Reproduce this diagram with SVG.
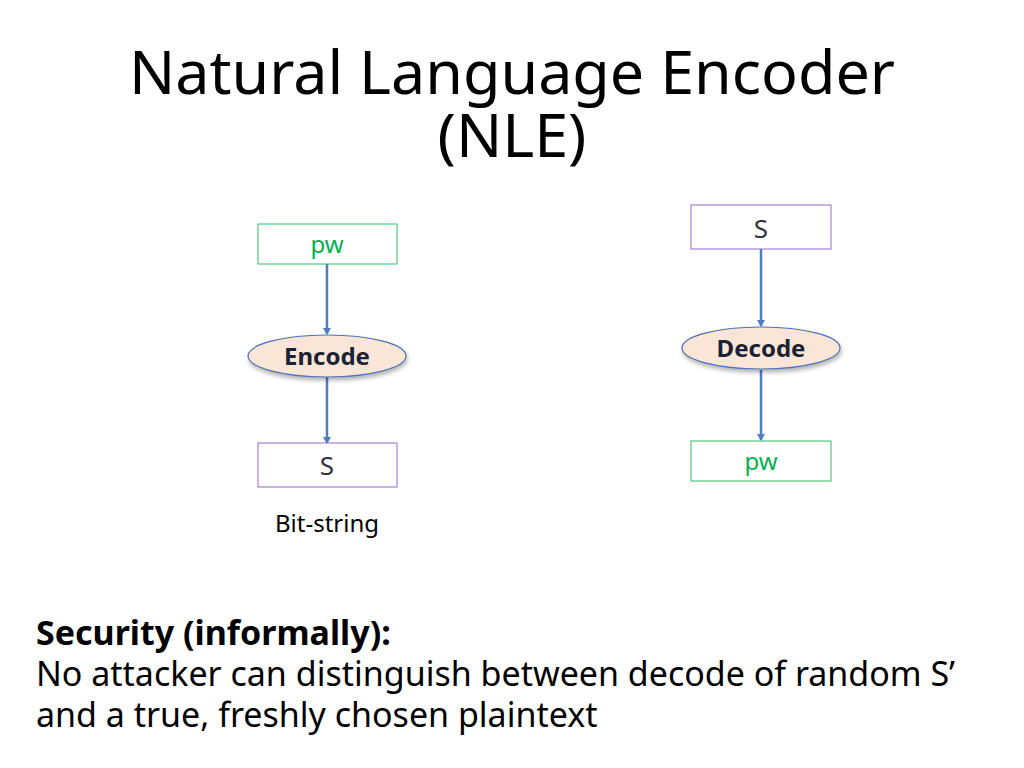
<svg xmlns="http://www.w3.org/2000/svg" width="1024" height="768" viewBox="0 0 1024 768">
<style>
text{font-family:"Noto Sans","Open Sans",sans-serif}
.t{font-size:61px;fill:#000;text-anchor:middle}
.g{fill:#fff;stroke:#33bb66;stroke-width:1}
.p{fill:#fff;stroke:#9966cc;stroke-width:1}
.e{fill:#fbe5d6;stroke:#4f72b0;stroke-width:1.2}
.pw{font-size:24px;fill:#00b050;text-anchor:middle}
.s{font-size:26px;fill:#333344;text-anchor:middle}
.b{font-size:24px;font-weight:bold;fill:#1a2233;text-anchor:middle}
.c{stroke:#4f7ec0;stroke-width:2.5;fill:none;marker-end:url(#a)}
.body{font-size:34px;fill:#000}
</style>
<defs>
<marker id="a" markerWidth="8" markerHeight="8" refX="6" refY="4" orient="auto" markerUnits="userSpaceOnUse"><path d="M0,0 L7,4 L0,8 Z" fill="#4f7ec0"/></marker>
<filter id="sh" x="-20%" y="-30%" width="140%" height="170%"><feDropShadow dx="1" dy="3" stdDeviation="2" flood-color="#000" flood-opacity="0.3"/></filter>
</defs>
<text class="t" x="512" y="94">Natural Language Encoder</text>
<text class="t" x="512" y="157">(NLE)</text>
<g id="connectors">
<line class="c" x1="327" y1="264" x2="327" y2="334"/>
<line class="c" x1="327" y1="376" x2="327" y2="443"/>
<line class="c" x1="761" y1="249" x2="761" y2="326"/>
<line class="c" x1="761" y1="370" x2="761" y2="440"/>
</g>
<g id="pw1"><rect class="g" x="258" y="224" width="139" height="40"/><text class="pw" x="327" y="253">pw</text></g>
<g id="encode"><ellipse class="e" cx="327" cy="356" rx="79" ry="21" filter="url(#sh)"/><text class="b" x="327" y="365">Encode</text></g>
<g id="s1"><rect class="p" x="258" y="443" width="139" height="44"/><text class="s" x="327" y="475">S</text></g>
<text x="327" y="532" style="font-size:24px;text-anchor:middle">Bit-string</text>
<g id="s2"><rect class="p" x="691" y="205" width="140" height="44"/><text class="s" x="761" y="238">S</text></g>
<g id="decode"><ellipse class="e" cx="761" cy="348" rx="79" ry="21" filter="url(#sh)"/><text class="b" x="761" y="357">Decode</text></g>
<g id="pw2"><rect class="g" x="691" y="441" width="140" height="40"/><text class="pw" x="761" y="470">pw</text></g>
<text class="body" x="36" y="645" font-weight="bold">Security (informally):</text>
<text class="body" x="36" y="686">No attacker can distinguish between decode of random S’</text>
<text class="body" x="36" y="727">and a true, freshly chosen plaintext</text>
</svg>
